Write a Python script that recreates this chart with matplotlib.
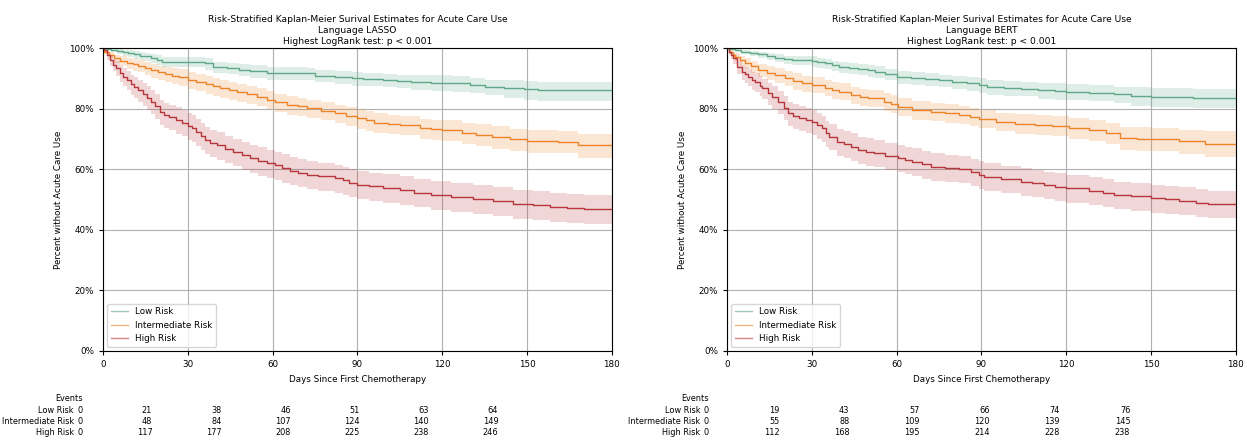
import matplotlib
matplotlib.use('Agg')
import matplotlib.pyplot as plt
from matplotlib.ticker import PercentFormatter

# ---- data (days, % without acute care use) ----
# Language LASSO
lasso_low_t = [0, 1, 3, 5, 7, 9, 11, 13, 15, 17, 19, 21, 36, 39, 44, 48, 52, 58, 72, 75, 82, 88, 92, 99, 104, 109, 116, 123, 130, 135, 142, 149, 154, 180]
lasso_low_s = [100, 99.7, 99.4, 99.0, 98.7, 98.3, 97.9, 97.5, 97.2, 96.8, 96.2, 95.5, 94.9, 93.8, 93.3, 92.9, 92.4, 91.8, 91.6, 90.9, 90.5, 90.0, 89.7, 89.4, 89.1, 88.9, 88.6, 88.3, 87.8, 87.2, 86.9, 86.5, 86.0, 86.0]
lasso_low_lo = [100, 99.2, 98.6, 98.0, 97.5, 97.0, 96.5, 96.0, 95.6, 95.1, 94.4, 93.6, 92.9, 91.8, 91.3, 90.7, 90.2, 89.6, 89.4, 88.7, 88.1, 87.6, 87.3, 87.0, 86.7, 86.2, 85.9, 85.6, 85.1, 84.5, 83.4, 83.0, 82.5, 82.5]
lasso_low_hi = [100, 100, 99.9, 99.7, 99.5, 99.2, 98.9, 98.6, 98.4, 98.1, 97.6, 97.0, 96.6, 95.5, 95.0, 94.6, 94.3, 93.7, 93.5, 92.8, 92.4, 92.1, 91.8, 91.5, 91.2, 91.0, 91.0, 90.7, 90.2, 89.6, 89.3, 89.1, 88.9, 88.9]

lasso_mid_t = [0, 0.5, 2, 4, 6, 8.5, 10.5, 12.5, 15, 17, 19.5, 22, 24.5, 27, 30, 33, 36.5, 39, 41.5, 44.5, 47.5, 51, 54.5, 58, 61, 65, 69, 72, 77, 82, 86, 90, 93, 96, 101, 105, 112, 116, 120, 127, 132, 137.5, 144, 150, 161, 168, 180]
lasso_mid_s = [100, 98.8, 97.8, 96.6, 95.8, 95.0, 94.6, 94.2, 93.4, 92.7, 92.0, 91.4, 90.9, 90.5, 89.4, 88.8, 88.0, 87.3, 86.7, 86.1, 85.4, 84.7, 83.9, 83.0, 82.1, 81.2, 80.7, 80.1, 79.3, 78.4, 77.6, 76.8, 76.1, 75.4, 75.0, 74.6, 73.5, 73.2, 72.9, 72.0, 71.4, 70.7, 70.0, 69.4, 69.1, 68.0, 67.7]
lasso_mid_lo = [100, 97.9, 96.6, 95.1, 94.0, 93.0, 92.5, 92.0, 91.0, 90.2, 89.4, 88.7, 88.1, 87.6, 86.4, 85.7, 84.9, 84.2, 83.6, 83.0, 82.2, 81.5, 80.7, 79.8, 78.9, 78.0, 77.5, 76.9, 76.1, 75.2, 74.2, 73.4, 72.7, 72.0, 71.6, 71.2, 69.9, 69.6, 69.3, 68.4, 67.8, 66.8, 66.1, 65.5, 65.2, 63.8, 63.5]
lasso_mid_hi = [100, 99.4, 98.7, 97.8, 97.2, 96.6, 96.3, 96.0, 95.4, 94.8, 94.2, 93.7, 93.3, 93.0, 92.0, 91.5, 90.7, 90.0, 89.4, 88.8, 88.2, 87.5, 86.7, 85.8, 84.9, 84.0, 83.5, 82.9, 82.1, 81.2, 80.6, 79.8, 79.1, 78.4, 78.0, 77.6, 76.7, 76.4, 76.1, 75.2, 74.8, 74.1, 73.4, 72.8, 72.5, 71.7, 71.4]

lasso_high_t = [0, 0.5, 1.5, 2.5, 3.5, 4.5, 6, 7, 8.5, 10, 11, 12.5, 14, 15.5, 17, 18.5, 20, 21.5, 23.5, 26, 28, 30, 31.5, 33, 34.5, 36, 38, 40.5, 43, 46, 49, 52, 55, 58, 61, 63.5, 66, 69, 72, 76, 82, 85, 87, 90, 94, 99, 105, 110, 116, 123, 131, 138, 145, 152, 158, 164, 170, 180]
lasso_high_s = [100, 99.3, 97.6, 96.0, 94.5, 93.4, 91.6, 90.5, 89.4, 88.0, 87.2, 86.0, 84.8, 83.6, 82.3, 80.8, 79.0, 77.9, 77.2, 76.2, 75.3, 74.4, 73.5, 72.4, 70.9, 69.6, 68.6, 67.9, 66.6, 65.6, 64.6, 63.6, 62.7, 62.0, 61.3, 60.4, 59.5, 58.8, 58.1, 57.6, 57.0, 56.3, 55.5, 54.9, 54.3, 53.8, 53.1, 52.3, 51.4, 50.9, 50.2, 49.5, 48.6, 48.1, 47.6, 47.2, 46.9, 46.9]
lasso_high_lo = [100, 98.5, 96.2, 94.1, 92.3, 90.9, 88.7, 87.4, 86.1, 84.5, 83.6, 82.2, 80.9, 79.6, 78.2, 76.6, 74.7, 73.5, 72.8, 71.7, 70.8, 69.8, 68.9, 67.8, 66.3, 64.9, 63.9, 63.2, 61.9, 60.9, 59.8, 58.8, 57.9, 57.2, 56.5, 55.6, 54.7, 54.0, 53.3, 52.8, 52.2, 51.5, 50.7, 50.1, 49.5, 48.9, 48.2, 47.4, 46.5, 46.0, 45.3, 44.6, 43.7, 43.1, 42.6, 42.2, 41.9, 41.9]
lasso_high_hi = [100, 99.9, 98.8, 97.6, 96.4, 95.6, 94.2, 93.3, 92.4, 91.2, 90.5, 89.5, 88.4, 87.3, 86.1, 84.7, 83.0, 82.0, 81.3, 80.4, 79.5, 78.7, 77.8, 76.7, 75.2, 74.0, 73.0, 72.3, 71.0, 70.0, 69.1, 68.1, 67.2, 66.5, 65.8, 64.9, 64.0, 63.3, 62.6, 62.1, 61.5, 60.8, 60.0, 59.4, 58.8, 58.4, 57.7, 56.9, 56.0, 55.5, 54.8, 54.1, 53.2, 52.8, 52.3, 51.9, 51.6, 51.6]

# Language BERT
bert_low_t = [0, 1, 3, 5, 8, 11, 14, 17, 20, 23, 30, 32, 34.5, 37, 39.5, 43, 46.5, 50, 52.5, 56, 60, 65, 70, 75, 79.5, 85, 89, 92, 98, 104, 110, 116, 120, 128, 137, 143, 150, 165, 180]
bert_low_s = [100, 99.7, 99.4, 98.8, 98.3, 97.9, 97.4, 96.8, 96.3, 96.0, 95.7, 95.3, 94.9, 94.3, 93.8, 93.4, 93.1, 92.6, 92.2, 91.5, 90.5, 90.1, 89.8, 89.3, 88.9, 88.3, 87.8, 87.1, 86.8, 86.5, 86.1, 85.8, 85.6, 85.2, 84.7, 84.3, 83.9, 83.6, 83.4]
bert_low_lo = [100, 99.2, 98.7, 97.9, 97.2, 96.6, 96.0, 95.3, 94.7, 94.3, 93.8, 93.4, 93.0, 92.4, 91.9, 91.3, 91.0, 90.5, 90.1, 89.4, 88.2, 87.8, 87.5, 87.0, 86.6, 85.8, 85.3, 84.6, 84.3, 84.0, 83.3, 83.0, 82.8, 82.4, 81.9, 81.0, 80.6, 80.3, 80.1]
bert_low_hi = [100, 100, 99.9, 99.4, 99.1, 98.8, 98.4, 97.9, 97.5, 97.3, 97.2, 96.8, 96.4, 95.8, 95.3, 95.1, 94.8, 94.3, 93.9, 93.2, 92.4, 92.0, 91.7, 91.2, 90.8, 90.5, 90.0, 89.3, 89.0, 88.7, 88.6, 88.3, 88.1, 87.7, 87.2, 87.2, 86.8, 86.5, 86.3]

bert_mid_t = [0, 0.7, 2, 2.8, 4.5, 6.4, 8.5, 11, 14, 17, 20.5, 23.5, 26.5, 30, 34.5, 37, 39.5, 44, 47, 50, 55.5, 58, 60.5, 65.5, 72, 77, 82, 86, 89, 95, 102, 109, 115, 121, 128, 134, 139, 145, 150, 160, 169, 180]
bert_mid_s = [100, 98.6, 97.6, 97.1, 96.0, 95.0, 93.9, 92.7, 91.9, 91.1, 90.0, 89.1, 88.3, 87.8, 86.9, 86.2, 85.6, 84.5, 83.9, 83.4, 82.3, 81.5, 80.6, 79.5, 79.0, 78.5, 77.9, 77.2, 76.6, 75.6, 75.0, 74.6, 74.2, 73.5, 72.8, 71.8, 70.2, 70.0, 69.9, 69.3, 68.4, 68.4]
bert_mid_lo = [100, 97.7, 96.3, 95.6, 94.2, 93.0, 91.7, 90.3, 89.4, 88.5, 87.3, 86.3, 85.5, 85.0, 84.1, 83.3, 82.7, 81.6, 81.0, 80.5, 79.2, 78.4, 77.5, 76.4, 75.9, 75.4, 74.8, 74.1, 73.5, 72.5, 71.6, 71.2, 70.8, 70.1, 69.4, 68.4, 66.2, 66.0, 65.9, 65.1, 63.9, 63.9]
bert_mid_hi = [100, 99.2, 98.6, 98.3, 97.5, 96.7, 95.8, 94.8, 94.1, 93.4, 92.4, 91.7, 90.9, 90.4, 89.5, 88.9, 88.3, 87.2, 86.6, 86.1, 85.2, 84.4, 83.5, 82.4, 81.9, 81.4, 80.8, 80.1, 79.5, 78.5, 78.3, 77.9, 77.5, 76.8, 76.1, 75.1, 74.0, 73.8, 73.7, 73.1, 72.6, 72.6]

bert_high_t = [0, 0.7, 1.5, 2.2, 3.4, 5.2, 6.5, 7.5, 9, 10, 11.5, 12.5, 14.5, 16, 18, 20, 21.7, 23.5, 25.5, 28, 30, 32, 33.5, 35, 36, 39, 41.5, 44, 46.5, 49, 52, 56, 60.5, 63, 65.5, 69, 72, 77, 82, 86.5, 89, 91, 97, 104, 108, 112, 116, 120, 128, 133, 137, 143, 150, 155, 160, 166, 170, 180]
bert_high_s = [100, 98.8, 97.7, 96.6, 93.8, 92.2, 91.3, 90.5, 89.5, 88.7, 87.6, 86.7, 85.0, 83.9, 82.3, 80.3, 78.4, 77.6, 77.0, 76.2, 75.5, 74.5, 73.5, 71.8, 70.7, 69.1, 68.3, 67.4, 66.3, 65.8, 65.2, 64.3, 63.6, 63.0, 62.5, 61.6, 60.8, 60.4, 60.1, 59.0, 58.2, 57.5, 56.7, 55.9, 55.4, 54.8, 54.2, 53.7, 52.9, 52.2, 51.5, 51.0, 50.4, 50.0, 49.6, 49.0, 48.5, 48.5]
bert_high_lo = [100, 97.9, 96.3, 94.8, 91.5, 89.6, 88.5, 87.5, 86.3, 85.4, 84.1, 83.1, 81.2, 80.0, 78.3, 76.2, 74.2, 73.3, 72.7, 71.9, 71.2, 70.0, 69.0, 67.3, 66.2, 64.5, 63.7, 62.8, 61.7, 61.2, 60.6, 59.7, 59.0, 58.4, 57.9, 56.9, 56.1, 55.7, 55.4, 54.3, 53.5, 52.8, 52.0, 51.2, 50.7, 50.1, 49.5, 49.0, 48.2, 47.5, 46.8, 46.3, 45.7, 45.3, 44.9, 44.3, 43.8, 43.8]
bert_high_hi = [100, 99.4, 98.7, 97.9, 95.6, 94.3, 93.6, 93.0, 92.2, 91.6, 90.6, 89.9, 88.4, 87.4, 85.9, 84.0, 82.2, 81.6, 81.0, 80.2, 79.5, 78.7, 77.7, 76.0, 74.9, 73.3, 72.7, 71.8, 70.7, 70.2, 69.6, 68.7, 68.0, 67.4, 66.9, 66.0, 65.2, 64.8, 64.5, 63.4, 62.6, 61.9, 61.1, 60.3, 59.8, 59.2, 58.6, 58.1, 57.3, 56.6, 55.9, 55.4, 54.8, 54.4, 54.0, 53.4, 52.9, 52.9]

groups = ['Low Risk', 'Intermediate Risk', 'High Risk']
colors = ['#5ea888', '#ee8428', '#b7363b']
tick_days = [0, 30, 60, 90, 120, 150, 180]

# cumulative events at each tick day
lasso_events = [[0, 21, 38, 46, 51, 63, 64],
                [0, 48, 84, 107, 124, 140, 149],
                [0, 117, 177, 208, 225, 238, 246]]
bert_events = [[0, 19, 43, 57, 66, 74, 76],
               [0, 55, 88, 109, 120, 139, 145],
               [0, 112, 168, 195, 214, 228, 238]]

panels = [
    ('Language LASSO',
     [(lasso_low_t, lasso_low_s, lasso_low_lo, lasso_low_hi),
      (lasso_mid_t, lasso_mid_s, lasso_mid_lo, lasso_mid_hi),
      (lasso_high_t, lasso_high_s, lasso_high_lo, lasso_high_hi)],
     lasso_events),
    ('Language BERT',
     [(bert_low_t, bert_low_s, bert_low_lo, bert_low_hi),
      (bert_mid_t, bert_mid_s, bert_mid_lo, bert_mid_hi),
      (bert_high_t, bert_high_s, bert_high_lo, bert_high_hi)],
     bert_events),
]

fs = 6.3
W, H = 1247, 440
fig = plt.figure(figsize=(W / 100, H / 100), dpi=100)
lefts = [0.0826, 0.583]
width = 0.408
# pixel x of the events-table columns (right edge) and column spacing
table_x0 = [83, 709]
table_dx = [69.2, 70.2]

for (name, curves, events), left, x0, dx in zip(panels, lefts, table_x0, table_dx):
    ax = fig.add_axes([left, 0.2023, width, 0.6886])
    for (t, s, lo, hi), lab, c in zip(curves, groups, colors):
        ax.fill_between(t, lo, hi, step='post', color=c, alpha=0.2, lw=0)
        ax.step(t, s, where='post', color=c, lw=1.0, label=lab)
    ax.set_xlim(0, 180)
    ax.set_ylim(0, 100)
    ax.set_xticks(tick_days)
    ax.set_yticks([0, 20, 40, 60, 80, 100])
    ax.yaxis.set_major_formatter(PercentFormatter(100, decimals=0))
    ax.grid(True, color='#b0b0b0', lw=0.8)
    ax.set_axisbelow(True)
    ax.tick_params(labelsize=fs, length=3, width=0.8)
    ax.set_xlabel('Days Since First Chemotherapy', fontsize=fs)
    ax.set_ylabel('Percent without Acute Care Use', fontsize=fs)
    ax.set_title('Risk-Stratified Kaplan-Meier Surival Estimates for Acute Care Use\n'
                 + name + '\nHighest LogRank test: p < 0.001',
                 fontsize=6.6, linespacing=1.3, pad=3)
    leg = ax.legend(loc='lower left', fontsize=fs, framealpha=0.8)
    for h in leg.get_lines():
        h.set_alpha(0.6)

    # events table under the axes
    y_rows = [398, 410, 421, 432]
    tfs = 5.9
    fig.text(x0 / W, 1 - y_rows[0] / H, 'Events', ha='right', va='center', fontsize=tfs)
    for r, (lab, row) in enumerate(zip(groups, events)):
        yy = 1 - y_rows[r + 1] / H
        fig.text((x0 - 9) / W, yy, lab, ha='right', va='center', fontsize=tfs)
        for k, v in enumerate(row):
            fig.text((x0 + dx * k) / W, yy, str(v), ha='right', va='center', fontsize=tfs)

fig.savefig('out.png', dpi=100)
